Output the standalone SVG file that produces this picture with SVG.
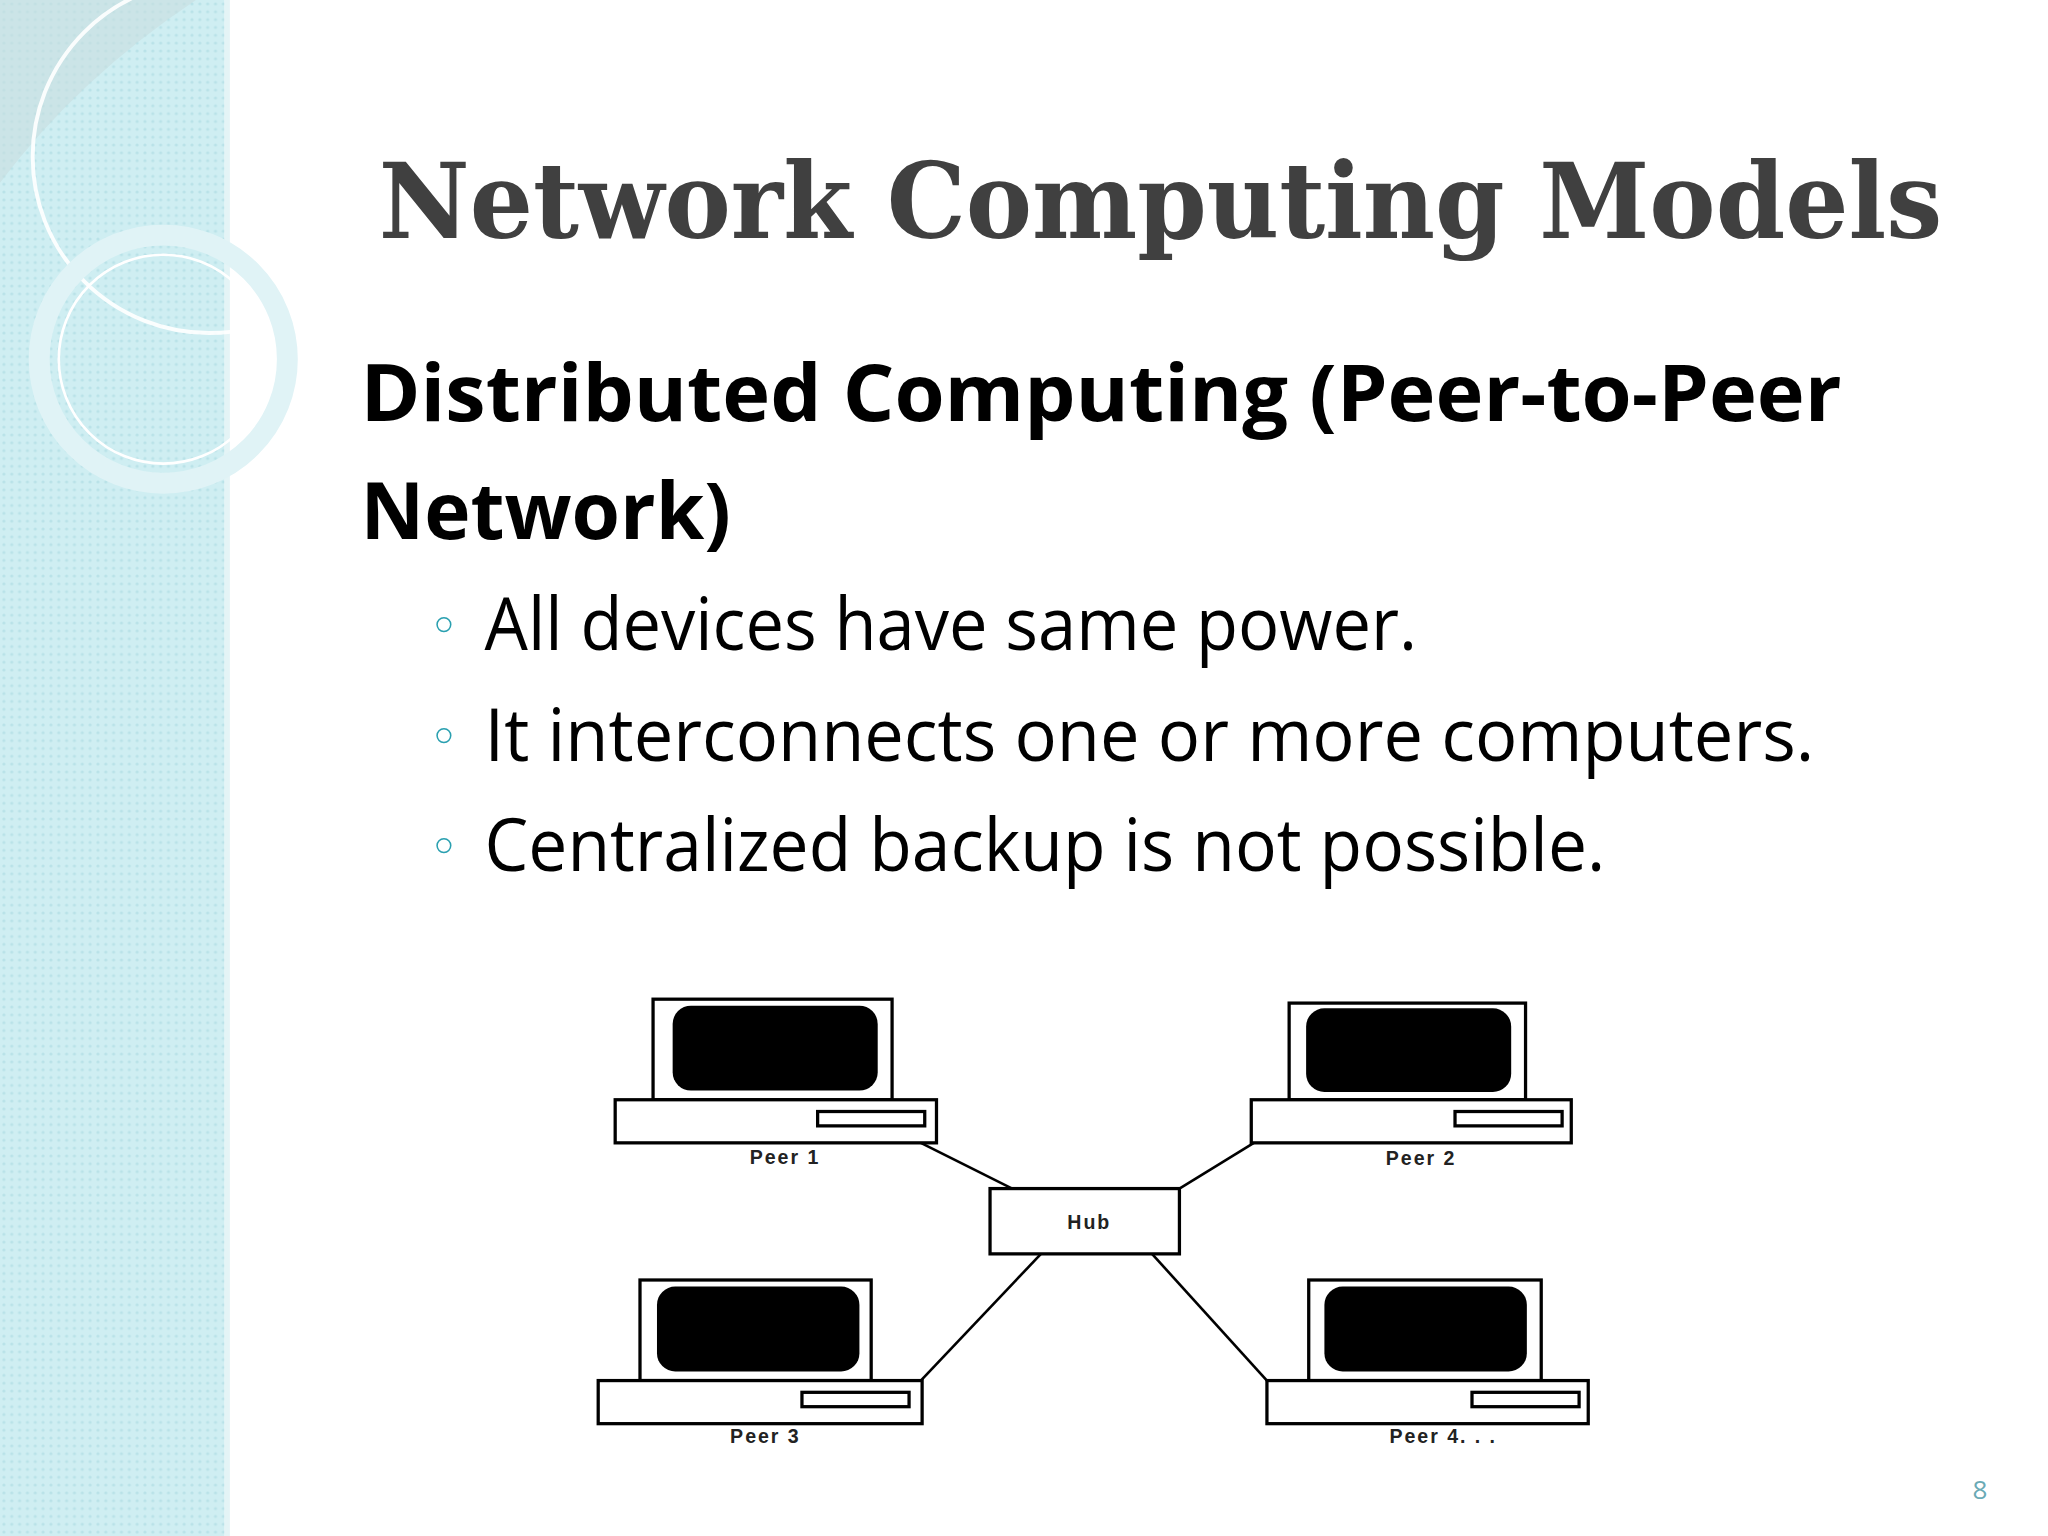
<svg xmlns="http://www.w3.org/2000/svg" width="2048" height="1536" viewBox="0 0 2048 1536">
<defs>
<pattern id="dots" width="6" height="6" patternUnits="userSpaceOnUse"><rect width="6" height="6" fill="#cfeef2"/><circle cx="3" cy="3" r="1.2" fill="#b9e2e8"/></pattern>
<style>
.mon{fill:#fff;stroke:#000;stroke-width:2.5}
.scr{fill:#000}
.base{fill:#fff;stroke:#000;stroke-width:2.5}
.lbl{font-family:"Liberation Sans",Arial,sans-serif;font-weight:bold;font-size:15px;fill:#222;letter-spacing:1.5px}
.ln{stroke:#000;stroke-width:2}
.bul{font-family:"Open Sans","Liberation Sans",sans-serif;font-size:56px;fill:#000}
.mk{font-family:"DejaVu Sans",sans-serif;font-size:40px;fill:#2aa0b0}
</style>
</defs>
<rect width="2048" height="1536" fill="#fff"/>
<g transform="scale(1.30612)">
<g id="sidebar">
<rect x="0" y="0" width="172" height="1176" fill="url(#dots)"/>
<rect x="172" y="0" width="4" height="1176" fill="#e4f4f6"/>
<path d="M0 0 L150 0 Q60 60 0 140 Z" fill="#c8dde0" opacity="0.6"/>
<circle cx="160" cy="120" r="135" fill="none" stroke="#fff" stroke-width="3" opacity="0.9"/>
<circle cx="125" cy="275" r="95" fill="none" stroke="#e0f3f6" stroke-width="16"/>
<circle cx="125" cy="275" r="80" fill="none" stroke="#fff" stroke-width="2"/>
</g>
<g id="title"><text x="290" y="182" font-family="'DejaVu Serif','Liberation Serif',serif" font-weight="bold" font-size="80" fill="#404040" textLength="1197" lengthAdjust="spacingAndGlyphs">Network Computing Models</text></g>
<g id="heading" font-family="'Open Sans','Liberation Sans',sans-serif" font-weight="bold" font-size="60" fill="#000">
<text x="276" y="322" textLength="1134" lengthAdjust="spacingAndGlyphs">Distributed Computing (Peer-to-Peer</text>
<text x="276" y="413">Network)</text>
</g>
<g id="bullets">
<text class="mk" x="328" y="493">◦</text>
<text class="mk" x="328" y="578">◦</text>
<text class="mk" x="328" y="662">◦</text>
<text class="bul" x="371" y="498" textLength="714" lengthAdjust="spacingAndGlyphs">All devices have same power.</text>
<text class="bul" x="371" y="583" textLength="1018" lengthAdjust="spacingAndGlyphs">It interconnects one or more computers.</text>
<text class="bul" x="371" y="667" textLength="858" lengthAdjust="spacingAndGlyphs">Centralized backup is not possible.</text>
</g>
<g id="connectors">
<line class="ln" x1="705" y1="875" x2="775" y2="910"/>
<line class="ln" x1="960" y1="875" x2="903" y2="910"/>
<line class="ln" x1="705" y1="1057" x2="797" y2="960"/>
<line class="ln" x1="970" y1="1057" x2="882" y2="960"/>
</g>
<g id="peer1">
<rect class="mon" x="500" y="765" width="183" height="77"/><rect class="scr" x="515" y="770" width="157" height="65" rx="14"/>
<rect class="base" x="471" y="842" width="246" height="33"/><rect class="base" x="626" y="851" width="82" height="11"/>
<text class="lbl" x="601" y="891" text-anchor="middle">Peer 1</text>
</g>
<g id="peer2">
<rect class="mon" x="987" y="768" width="181" height="74"/><rect class="scr" x="1000" y="772" width="157" height="64" rx="14"/>
<rect class="base" x="958" y="842" width="245" height="33"/><rect class="base" x="1114" y="851" width="82" height="11"/>
<text class="lbl" x="1088" y="892" text-anchor="middle">Peer 2</text>
</g>
<g id="hub">
<rect class="base" x="758" y="910" width="145" height="50"/>
<text class="lbl" x="834" y="941" text-anchor="middle">Hub</text>
</g>
<g id="peer3">
<rect class="mon" x="490" y="980" width="177" height="77"/><rect class="scr" x="503" y="985" width="155" height="65" rx="14"/>
<rect class="base" x="458" y="1057" width="248" height="33"/><rect class="base" x="614" y="1066" width="82" height="11"/>
<text class="lbl" x="586" y="1105" text-anchor="middle">Peer 3</text>
</g>
<g id="peer4">
<rect class="mon" x="1002" y="980" width="178" height="77"/><rect class="scr" x="1014" y="985" width="155" height="65" rx="14"/>
<rect class="base" x="970" y="1057" width="246" height="33"/><rect class="base" x="1127" y="1066" width="82" height="11"/>
<text class="lbl" x="1105" y="1105" text-anchor="middle">Peer 4. . .</text>
</g>
<g id="pagenum"><text x="1516" y="1148" font-family="'Open Sans','Liberation Sans',sans-serif" font-size="20" fill="#6aaab5" text-anchor="middle">8</text></g>
</g>
</svg>
